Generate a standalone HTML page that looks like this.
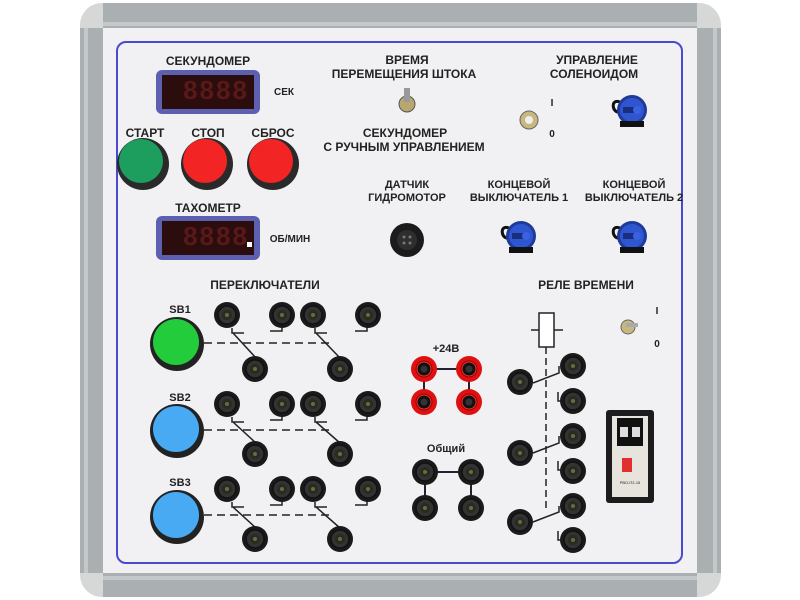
<!DOCTYPE html>
<html><head><meta charset="utf-8"><style>
html,body{margin:0;padding:0;background:#fff;width:800px;height:600px;overflow:hidden}
svg{display:block}
text{font-family:"Liberation Sans","DejaVu Sans",sans-serif;font-weight:bold;fill:#222;text-anchor:middle}
</style></head><body>
<svg width="800" height="600" viewBox="0 0 800 600" xmlns="http://www.w3.org/2000/svg">
<defs>
<g id="jack"><circle r="13" fill="#1a1a1a"/><circle r="9" fill="#333" stroke="#111" stroke-width="1.5"/><circle r="5" fill="#2a2a20"/><circle r="2" fill="#6a6a40"/></g>
<g id="rjack"><circle r="13" fill="#e01010"/><circle r="8.5" fill="#900" /><circle r="7" fill="#111" stroke="#e33" stroke-width="1"/><circle r="3.5" fill="#333"/></g>
<g id="blueconn"><path d="M-12,-8 C-22,-12 -20,4 -12,2" fill="none" stroke="#111" stroke-width="3"/><circle r="15" fill="#1f3b9a"/><circle r="12" fill="#2f55d0"/><rect x="-9" y="-3" width="12" height="6" fill="#1a2e80"/><circle cx="5" cy="0" r="4" fill="#3a62e0"/><rect x="-12" y="11" width="24" height="6" fill="#111"/></g>
</defs>
<!-- frame -->
<rect x="80" y="3" width="641" height="594" rx="22" fill="#d6d8d8"/>
<rect x="103" y="3" width="594" height="25" fill="#aab0b1"/>
<rect x="103" y="573" width="594" height="24" fill="#aab0b1"/>
<rect x="80" y="28" width="23" height="545" fill="#aab0b1"/>
<rect x="697" y="28" width="24" height="545" fill="#aab0b1"/>
<rect x="103" y="22" width="594" height="4" fill="#c4c8c9"/>
<rect x="103" y="576" width="594" height="4" fill="#c4c8c9"/>
<rect x="84" y="28" width="4" height="545" fill="#c4c8c9"/>
<rect x="713" y="28" width="4" height="545" fill="#c4c8c9"/>
<rect x="103" y="28" width="594" height="545" fill="#f1f1f3"/>
<rect x="117" y="42" width="565" height="521" rx="9" fill="none" stroke="#4a4ad0" stroke-width="2"/>

<!-- displays -->
<text x="208" y="65" font-size="12">СЕКУНДОМЕР</text>
<rect x="156" y="70" width="104" height="44" rx="6" fill="#5d5fb0"/>
<rect x="162" y="75" width="92" height="34" fill="#2b0d0d"/>
<text x="216" y="99" font-size="26" style="fill:#5a1818;letter-spacing:2px" font-family="Liberation Mono">8888</text>
<text x="284" y="95" font-size="10">СЕК</text>
<text x="208" y="212" font-size="12">ТАХОМЕТР</text>
<rect x="156" y="216" width="104" height="44" rx="6" fill="#5d5fb0"/>
<rect x="162" y="221" width="92" height="34" fill="#2b0d0d"/>
<text x="216" y="245" font-size="26" style="fill:#5a1818;letter-spacing:2px" font-family="Liberation Mono">8888</text>
<rect x="247" y="242" width="5" height="5" fill="#fff"/>
<text x="290" y="242" font-size="10">ОБ/МИН</text>

<!-- buttons -->
<text x="145" y="137" font-size="12">СТАРТ</text>
<text x="208" y="137" font-size="12">СТОП</text>
<text x="273" y="137" font-size="12">СБРОС</text>
<circle cx="143" cy="164" r="26" fill="#2a2a2a"/><circle cx="141" cy="161" r="22" fill="#1e9e5e"/>
<circle cx="207" cy="164" r="26" fill="#2a2a2a"/><circle cx="205" cy="161" r="22" fill="#f22424"/>
<circle cx="273" cy="164" r="26" fill="#2a2a2a"/><circle cx="271" cy="161" r="22" fill="#f22424"/>

<!-- top middle -->
<text x="407" y="64" font-size="12">ВРЕМЯ</text>
<text x="404" y="78" font-size="12">ПЕРЕМЕЩЕНИЯ ШТОКА</text>
<circle cx="407" cy="104" r="8" fill="#b8a870" stroke="#555"/><rect x="404" y="88" width="6" height="14" fill="#999"/>
<text x="405" y="137" font-size="12">СЕКУНДОМЕР</text>
<text x="404" y="151" font-size="12">С РУЧНЫМ УПРАВЛЕНИЕМ</text>
<text x="597" y="64" font-size="12">УПРАВЛЕНИЕ</text>
<text x="594" y="78" font-size="12">СОЛЕНОИДОМ</text>
<circle cx="529" cy="120" r="9" fill="#c8b880" stroke="#666"/><circle cx="529" cy="120" r="4" fill="#eee"/>
<text x="552" y="106" font-size="10">I</text>
<text x="552" y="137" font-size="10">0</text>
<use href="#blueconn" x="632" y="110"/>
<text x="407" y="188" font-size="11">ДАТЧИК</text>
<text x="407" y="201" font-size="11">ГИДРОМОТОР</text>
<circle cx="407" cy="240" r="17" fill="#1b1b1b"/><circle cx="407" cy="240" r="10" fill="#2e2e2e"/>
<circle cx="404" cy="237" r="1.5" fill="#777"/><circle cx="410" cy="237" r="1.5" fill="#777"/><circle cx="404" cy="243" r="1.5" fill="#777"/><circle cx="410" cy="243" r="1.5" fill="#777"/>
<text x="519" y="188" font-size="11">КОНЦЕВОЙ</text>
<text x="519" y="201" font-size="11">ВЫКЛЮЧАТЕЛЬ 1</text>
<text x="634" y="188" font-size="11">КОНЦЕВОЙ</text>
<text x="634" y="201" font-size="11">ВЫКЛЮЧАТЕЛЬ 2</text>
<use href="#blueconn" x="521" y="236"/>
<use href="#blueconn" x="632" y="236"/>

<!-- switches -->
<text x="265" y="289" font-size="12">ПЕРЕКЛЮЧАТЕЛИ</text>
<g stroke="#222" stroke-width="1.5" fill="none">
<path d="M232,328 v5 h12 M233,333 L256,358 M270,331 h12 v-5 M315,328 v5 h12 M316,333 L340,358 M355,331 h12 v-5"/>
<path d="M232,417 v5 h12 M233,422 L256,443 M270,420 h12 v-5 M315,417 v5 h12 M316,422 L340,443 M355,420 h12 v-5"/>
<path d="M232,502 v5 h12 M233,507 L256,528 M270,505 h12 v-5 M315,502 v5 h12 M316,507 L340,528 M355,505 h12 v-5"/>
<path d="M204,343 H330 M204,430 H330 M204,515 H330" stroke-dasharray="8,5"/>
</g>
<text x="180" y="313" font-size="11">SB1</text>
<text x="180" y="401" font-size="11">SB2</text>
<text x="180" y="486" font-size="11">SB3</text>
<circle cx="177" cy="344" r="27" fill="#222"/><circle cx="176" cy="342" r="23" fill="#22cc3a"/>
<circle cx="177" cy="431" r="27" fill="#222"/><circle cx="176" cy="429" r="23" fill="#48aaf2"/>
<circle cx="177" cy="517" r="27" fill="#222"/><circle cx="176" cy="515" r="23" fill="#48aaf2"/>
<g>
<use href="#jack" x="227" y="315"/><use href="#jack" x="282" y="315"/><use href="#jack" x="313" y="315"/><use href="#jack" x="368" y="315"/>
<use href="#jack" x="255" y="369"/><use href="#jack" x="340" y="369"/>
<use href="#jack" x="227" y="404"/><use href="#jack" x="282" y="404"/><use href="#jack" x="313" y="404"/><use href="#jack" x="368" y="404"/>
<use href="#jack" x="255" y="454"/><use href="#jack" x="340" y="454"/>
<use href="#jack" x="227" y="489"/><use href="#jack" x="282" y="489"/><use href="#jack" x="313" y="489"/><use href="#jack" x="368" y="489"/>
<use href="#jack" x="255" y="539"/><use href="#jack" x="340" y="539"/>
</g>

<!-- +24V / common -->
<text x="446" y="352" font-size="11">+24В</text>
<g stroke="#223" stroke-width="2"><path d="M424,369 H469 M424,369 V402 M469,369 V402"/></g>
<use href="#rjack" x="424" y="369"/><use href="#rjack" x="469" y="369"/><use href="#rjack" x="424" y="402"/><use href="#rjack" x="469" y="402"/>
<text x="446" y="452" font-size="11">Общий</text>
<g stroke="#223" stroke-width="2"><path d="M425,472 H471 M425,472 V508 M471,472 V508"/></g>
<use href="#jack" x="425" y="472"/><use href="#jack" x="471" y="472"/><use href="#jack" x="425" y="508"/><use href="#jack" x="471" y="508"/>

<!-- relay -->
<text x="586" y="289" font-size="12">РЕЛЕ ВРЕМЕНИ</text>
<g stroke="#222" stroke-width="1.5" fill="none">
<rect x="539" y="313" width="15" height="34" fill="#fff"/>
<path d="M531,330 H539 M554,330 H563"/>
<path d="M546,347 V510" stroke-dasharray="7,4"/>
<path d="M533,383 L559,373 V366 M558,392 V401 H563"/>
<path d="M533,453 L559,443 V436 M558,461 V470 H563"/>
<path d="M533,522 L559,512 V506 M558,531 V540 H563"/>
</g>
<use href="#jack" x="520" y="382"/><use href="#jack" x="520" y="453"/><use href="#jack" x="520" y="522"/>
<use href="#jack" x="573" y="366"/><use href="#jack" x="573" y="401"/><use href="#jack" x="573" y="436"/><use href="#jack" x="573" y="471"/><use href="#jack" x="573" y="506"/><use href="#jack" x="573" y="540"/>
<circle cx="628" cy="327" r="7" fill="#c8b880" stroke="#666"/><rect x="626" y="323" width="12" height="4" fill="#aaa"/>
<text x="657" y="314" font-size="10">I</text>
<text x="657" y="347" font-size="10">0</text>
<rect x="606" y="410" width="48" height="93" rx="3" fill="#1c1c1c"/>
<rect x="612" y="416" width="36" height="81" fill="#e6e4dc"/>
<rect x="617" y="418" width="26" height="28" fill="#111"/>
<rect x="620" y="427" width="8" height="10" fill="#ddd"/><rect x="632" y="427" width="8" height="10" fill="#ddd"/>
<rect x="622" y="458" width="10" height="14" fill="#e03030"/>
<text x="630" y="484" font-size="4" style="font-weight:normal">РВО-П2-15</text>
</svg>
</body></html>
